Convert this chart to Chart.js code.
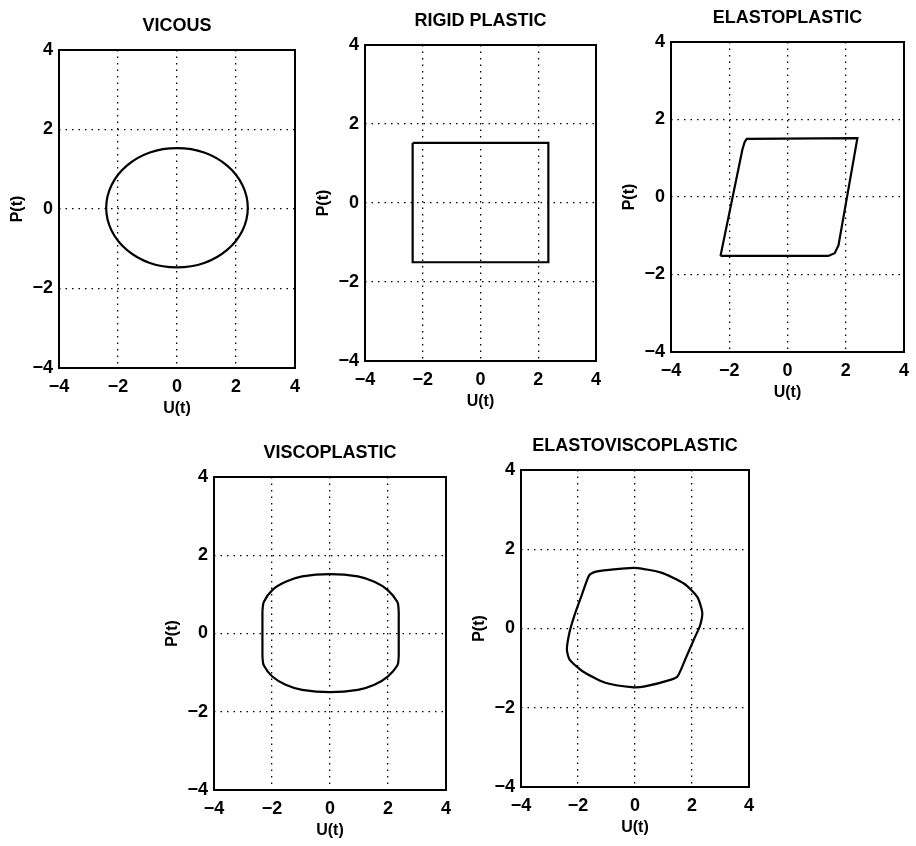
<!DOCTYPE html>
<html>
<head>
<meta charset="utf-8">
<title>Hysteresis loops</title>
<script src="https://cdn.jsdelivr.net/npm/chart.js@4.4.0/dist/chart.umd.min.js"></script>
<style>
  body { margin: 0; background: #fff; }
  #page { position: relative; width: 916px; height: 846px; overflow: hidden; background: #fff; }
  canvas { position: absolute; }
</style>
</head>
<body>
<div id="page">
  <canvas id="vicous"></canvas>
  <canvas id="rigid"></canvas>
  <canvas id="elasto"></canvas>
  <canvas id="visco"></canvas>
  <canvas id="evp"></canvas>
</div>
<script>
// Ticks shared by every panel (both axes)
const tickValues = [-4, -2, 0, 2, 4];
const tickLabels = ["\u22124", "\u22122", "0", "2", "4"];
const xTitle = "U(t)";
const yTitle = "P(t)";

// VICOUS - ellipse (closed loop, first point not repeated)
const vicousU = [2.40, 2.22, 1.70, 0.92, 0.00, -0.92, -1.70, -2.22, -2.40, -2.22, -1.70, -0.92, 0.00, 0.92, 1.70, 2.22];
const vicousP = [0.03, 0.60, 1.09, 1.42, 1.53, 1.42, 1.09, 0.60, 0.03, -0.54, -1.03, -1.36, -1.47, -1.36, -1.03, -0.54];

// RIGID PLASTIC - rectangle
const rigidU = [-2.35, 2.35, 2.35, -2.35, -2.35];
const rigidP = [1.52, 1.52, -1.50, -1.50, 1.52];

// ELASTOPLASTIC - parallelogram
const elastoU = [-2.30, -1.55, -1.47, -1.40, 2.40, 1.75, 1.62, 1.40, -2.30];
const elastoP = [-1.52, 1.22, 1.42, 1.50, 1.52, -1.25, -1.45, -1.52, -1.52];

// VISCOPLASTIC - two arcs joined by vertical sides
const viscoTopU = [-2.33, -2.28, -1.99, -1.53, -0.96, 0.00, 0.96, 1.53, 1.99, 2.32, 2.37];
const viscoTopP = [0.58, 0.81, 1.11, 1.32, 1.46, 1.52, 1.46, 1.32, 1.11, 0.81, 0.58];
const viscoBotU = [2.37, 2.32, 1.99, 1.53, 0.96, 0.00, -0.96, -1.53, -1.99, -2.28, -2.33];
const viscoBotP = [-0.60, -0.82, -1.10, -1.31, -1.44, -1.50, -1.44, -1.31, -1.10, -0.82, -0.60];
const viscoLeftU = [-2.33, -2.33];
const viscoLeftP = [0.58, -0.60];
const viscoRightU = [2.37, 2.37];
const viscoRightP = [0.58, -0.60];

// ELASTOVISCOPLASTIC - skewed loop (closed, first point not repeated)
const evpU = [-1.61, -1.40, -0.92, 0.00, 0.92, 1.73, 2.19, 2.36, 2.28, 2.07, 1.78, 1.50, 1.27, 0.35, -0.12, -1.04, -1.84, -2.30, -2.39, -2.30, -2.13, -1.88];
const evpP = [1.34, 1.43, 1.48, 1.53, 1.41, 1.13, 0.79, 0.41, 0.07, -0.27, -0.75, -1.20, -1.29, -1.46, -1.48, -1.37, -1.08, -0.78, -0.53, -0.10, 0.32, 0.82];

// plot area boxes [left, top, right, bottom] in page pixels
const boxes = {
  vicous: [59, 50, 295, 368],
  rigid:  [365, 45, 596, 361],
  elasto: [671, 42, 904, 352],
  visco:  [214, 477, 446, 790],
  evp:    [521, 470, 749, 787]
};

const AXIS_W = 54, AXIS_H = 50, TITLE_H = 34;
const FONT = "'Liberation Sans', Arial, Helvetica, sans-serif";

function pairs(us, ps) {
  return us.map((u, i) => ({ x: u, y: ps[i] }));
}

function line(data, tension) {
  return {
    data: data,
    showLine: true,
    borderColor: "#000",
    borderWidth: 2.2,
    pointRadius: 0,
    fill: false,
    tension: tension
  };
}

function path(us, ps, tension) {
  return line(pairs(us, ps), tension);
}

// smooth closed curve: wrap the points round and hide the two end segments
function closedLoop(us, ps, tension) {
  const pts = pairs(us, ps);
  const n = pts.length;
  const data = [pts[n - 1]].concat(pts, [pts[0], pts[1]]);
  const ds = line(data, tension);
  ds.segment = {
    borderColor: (c) => (c.p0DataIndex === 0 || c.p1DataIndex === data.length - 1) ? "rgba(0,0,0,0)" : "#000"
  };
  return ds;
}

// black frame all round the plot area
const frame = {
  id: "frame",
  afterDatasetsDraw(chart) {
    const a = chart.chartArea;
    const ctx = chart.ctx;
    ctx.save();
    ctx.strokeStyle = "#000";
    ctx.lineWidth = 2;
    ctx.strokeRect(a.left, a.top, a.right - a.left, a.bottom - a.top);
    ctx.restore();
  }
};

function axis(isX) {
  return {
    type: "linear",
    min: -4,
    max: 4,
    afterBuildTicks: (s) => { s.ticks = tickValues.map(v => ({ value: v })); },
    afterFit: (s) => { if (isX) s.height = AXIS_H; else s.width = AXIS_W; },
    ticks: {
      color: "#000",
      padding: isX ? 8 : 6,
      font: { family: FONT, size: 18, weight: "bold" },
      callback: (v) => tickLabels[tickValues.indexOf(v)]
    },
    grid: { color: "#000", lineWidth: 1.3, drawTicks: false },
    border: { display: false, dash: [1.5, 5] },
    title: {
      display: true,
      text: isX ? xTitle : yTitle,
      color: "#000",
      font: { family: FONT, size: 16, weight: "bold", lineHeight: 1.2 },
      padding: isX ? { top: 0, bottom: 0 } : { top: 3, bottom: 0 }
    }
  };
}

// empty right axis so the title is centred over the plot
const spacer = {
  type: "linear",
  position: "right",
  min: -4,
  max: 4,
  afterFit: (s) => { s.width = AXIS_W; },
  ticks: { display: false },
  grid: { display: false, drawTicks: false },
  border: { display: false }
};

function makePanel(id, title, datasets) {
  const [L, T, R, B] = boxes[id];
  const canvas = document.getElementById(id);
  canvas.width = (R - L) + 2 * AXIS_W;
  canvas.height = (B - T) + TITLE_H + AXIS_H;
  canvas.style.left = (L - AXIS_W) + "px";
  canvas.style.top = (T - TITLE_H) + "px";
  new Chart(canvas, {
    type: "scatter",
    data: { datasets: datasets },
    plugins: [frame],
    options: {
      responsive: false,
      animation: false,
      layout: { padding: 0 },
      plugins: {
        legend: { display: false },
        tooltip: { enabled: false },
        title: {
          display: true,
          text: title,
          color: "#000",
          font: { family: FONT, size: 18, weight: "bold", lineHeight: "20px" },
          padding: { top: 0, bottom: 14 }
        }
      },
      scales: { x: axis(true), y: axis(false), y2: spacer }
    }
  });
}

makePanel("vicous", "VICOUS", [closedLoop(vicousU, vicousP, 0.4)]);
makePanel("rigid", "RIGID PLASTIC", [path(rigidU, rigidP, 0)]);
makePanel("elasto", "ELASTOPLASTIC", [path(elastoU, elastoP, 0)]);
makePanel("visco", "VISCOPLASTIC", [
  path(viscoTopU, viscoTopP, 0.4),
  path(viscoRightU, viscoRightP, 0),
  path(viscoBotU, viscoBotP, 0.4),
  path(viscoLeftU, viscoLeftP, 0)
]);
makePanel("evp", "ELASTOVISCOPLASTIC", [closedLoop(evpU, evpP, 0.2)]);
</script>
</body>
</html>
